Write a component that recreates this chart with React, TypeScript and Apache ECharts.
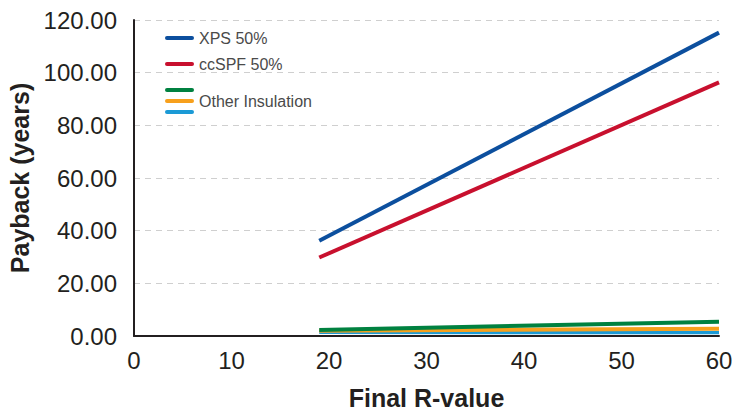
import React, { useEffect, useRef } from "react";
import * as echarts from "echarts";

const rValues = [19, 60];
const xpsPayback = [36.2, 115.2];
const ccspfPayback = [29.8, 96.3];
const otherGreen = [2.3, 5.4];
const otherOrange = [2.0, 2.8];
const otherBlue = [1.5, 1.4];
const yTicks = [0, 20, 40, 60, 80, 100, 120];

const font = "'Liberation Sans', Arial, Helvetica, sans-serif";

const pts = (ys: number[]) => rValues.map((x, i) => [x, ys[i]]);

export default function App() {
  const ref = useRef<HTMLDivElement>(null);
  useEffect(() => {
    const chart = echarts.init(ref.current!, null, { renderer: "svg" });
    const lineSeries = (name: string, ys: number[], color: string, z: number) => ({
      name,
      type: "line",
      data: pts(ys),
      showSymbol: false,
      symbol: "none",
      z,
      lineStyle: { color, width: 4 },
    });
    chart.setOption({
      animation: false,
      backgroundColor: "#ffffff",
      grid: {
        left: 134,
        right: 31,
        top: 20,
        bottom: 76,
        containLabel: false,
        outerBoundsMode: "none",
      },
      xAxis: {
        type: "value",
        min: 0,
        max: 60,
        interval: 10,
        name: "Final R-value",
        nameLocation: "middle",
        nameGap: 49,
        nameTextStyle: { fontFamily: font, fontSize: 25, fontWeight: "bold", color: "#231f20" },
        axisLine: { show: true, lineStyle: { color: "#231f20", width: 2 } },
        axisTick: { show: false },
        splitLine: { show: false },
        axisLabel: { fontFamily: font, fontSize: 24, color: "#231f20", margin: 12 },
      },
      yAxis: {
        type: "value",
        min: 0,
        max: 120,
        interval: 20,
        name: "Payback (years)",
        nameLocation: "middle",
        nameGap: 100,
        nameRotate: 90,
        nameTextStyle: { fontFamily: font, fontSize: 25, fontWeight: "bold", color: "#231f20" },
        axisLine: { show: true, lineStyle: { color: "#231f20", width: 2 } },
        axisTick: { show: false },
        splitLine: { show: true, lineStyle: { color: "#cfcfcf", type: [6, 5], width: 1 } },
        axisLabel: {
          fontFamily: font,
          fontSize: 24,
          color: "#231f20",
          margin: 17,
          formatter: (v: number) => (yTicks.includes(v) ? v.toFixed(2) : ""),
        },
      },
      series: [
        lineSeries("XPS 50%", xpsPayback, "#0c4f9e", 5),
        lineSeries("ccSPF 50%", ccspfPayback, "#c8102e", 5),
        lineSeries("Other Insulation (blue)", otherBlue, "#1b9ad6", 3),
        lineSeries("Other Insulation (orange)", otherOrange, "#f7a01c", 4),
        lineSeries("Other Insulation", otherGreen, "#008140", 5),
      ],
      graphic: [
        { type: "line", shape: { x1: 167, y1: 38, x2: 192, y2: 38 }, style: { stroke: "#0c4f9e", lineWidth: 4, lineCap: "round" } },
        { type: "text", x: 199, y: 38, style: { text: "XPS 50%", fontFamily: font, fontSize: 16, fill: "#4a4a4a", verticalAlign: "middle" } },
        { type: "line", shape: { x1: 167, y1: 64, x2: 192, y2: 64 }, style: { stroke: "#c8102e", lineWidth: 4, lineCap: "round" } },
        { type: "text", x: 199, y: 64, style: { text: "ccSPF 50%", fontFamily: font, fontSize: 16, fill: "#4a4a4a", verticalAlign: "middle" } },
        { type: "line", shape: { x1: 167, y1: 90, x2: 192, y2: 90 }, style: { stroke: "#008140", lineWidth: 4, lineCap: "round" } },
        { type: "line", shape: { x1: 167, y1: 101, x2: 192, y2: 101 }, style: { stroke: "#f7a01c", lineWidth: 4, lineCap: "round" } },
        { type: "line", shape: { x1: 167, y1: 112, x2: 192, y2: 112 }, style: { stroke: "#1b9ad6", lineWidth: 4, lineCap: "round" } },
        { type: "text", x: 199, y: 101, style: { text: "Other Insulation", fontFamily: font, fontSize: 16, fill: "#4a4a4a", verticalAlign: "middle" } },
      ],
    });
    return () => chart.dispose();
  }, []);
  return (
    <div
      ref={ref}
      style={{ position: "absolute", left: 0, top: 0, width: 750, height: 412 }}
    />
  );
}
